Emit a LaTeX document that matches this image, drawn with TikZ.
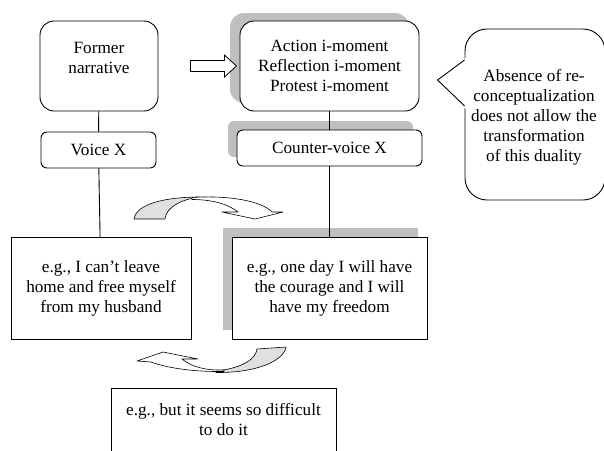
\documentclass[tikz,border=0pt]{standalone}
\usepackage{fontspec}
\setmainfont{Liberation Serif}
\usetikzlibrary{positioning}
\begin{document}
\begin{tikzpicture}[x=1pt,y=-1pt,
    every node/.style={font=\fontsize{17.2}{20}\selectfont,align=center,inner sep=0pt},
    rbox/.style={draw,line width=.9pt,fill=white,rounded corners=#1},
    sbox/.style={draw,line width=.9pt,fill=white},
    shadow/.style={fill=black!25},
    backface/.style={fill=black!12,draw,line width=.6pt,line join=round},
    frontface/.style={fill=white,draw,line width=.6pt,line join=round}]
    \useasboundingbox (0,0) rectangle (604,450);
    \clip (0,0) rectangle (604,450);

    \fill[shadow,rounded corners=14pt] (230,13) rectangle (409,103);
    \fill[shadow,rounded corners=6pt] (228,121) rectangle (413,157);
    \fill[shadow] (223,228) rectangle (418,330);

    \node[rbox=14pt,minimum width=118pt,minimum height=90pt] (former) at (99,66) {};
    \node[below=21pt of former.north] (formertxt) {Former\\narrative};
    \node[rbox=6pt,minimum width=115pt,minimum height=36pt] (voice) at (98.5,150) {Voice X};
    \node[rbox=14pt,minimum width=179pt,minimum height=90pt] (action) at (329.5,66)
        {Action i-moment\\Reflection i-moment\\Protest i-moment};
    \node[rbox=6pt,minimum width=185pt,minimum height=36pt] (counter) at (329.5,148) {Counter-voice X};
    \node[sbox,minimum width=180pt,minimum height=102pt] (egleft) at (101,288)
        {e.g., I can't leave\\home and free myself\\from my husband};
    \node[sbox,minimum width=195pt,minimum height=102pt] (egright) at (329.5,288)
        {e.g., one day I will have\\the courage and I will\\have my freedom};
    \node[sbox,minimum width=225pt,minimum height=64pt] (difficult) at (223.5,420)
        {e.g., but it seems so difficult\\to do it};
    \node[rbox=22pt,minimum width=140pt,minimum height=171pt] (absence) at (535,114.5) {};
    \node (absencetxt) at ([xshift=-1pt,yshift=-2.5pt]absence.center)
        {Absence of re-\\conceptualization\\does not allow the\\transformation\\of this duality};

    \draw[line width=.9pt] (former) -- (voice);
    \draw[line width=.9pt] (voice) -- (egleft);
    \draw[line width=.9pt] (action) -- (counter);
    \draw[line width=.9pt] (counter) -- (egright);

    \fill[white,shift={(absence.west)}] (1.5,-57) -- (-27,-34.5) -- (1.5,-5) -- cycle;
    \draw[line width=.9pt,line join=round,shift={(absence.west)}] (0,-54.5) -- (-27,-34.5) -- (0,-8.5);

    \draw[line width=.8pt,fill=white,shift={(former.east)}]
        (32,-5.5) -- (66,-5.5) -- (66,-11) -- (78,0) -- (66,11) -- (66,5.5) -- (32,5.5) -- cycle;

    \draw[backface] (134,219) .. controls (136,204) and (165,197) .. (200,197)
        .. controls (182,199) and (166,207) .. (165,219) -- cycle;
    \draw[frontface] (192,197.5) .. controls (228,195) and (262,201) .. (272,212)
        -- (283,212) -- (255,219) -- (222,212) -- (238,212)
        .. controls (228,204) and (212,199.5) .. (192,199.5) -- cycle;

    \draw[backface] (216,371) .. controls (244,368) and (256,358) .. (257,349)
        -- (286,347) .. controls (284,361) and (256,373) .. (216,372.5) -- cycle;
    \draw[frontface] (224,371.5) .. controls (190,372) and (164,367) .. (151,362)
        -- (137,361) -- (163,352) -- (198,359) -- (182,359)
        .. controls (192,367) and (205,370.5) .. (224,370) -- cycle;
\end{tikzpicture}
\end{document}
